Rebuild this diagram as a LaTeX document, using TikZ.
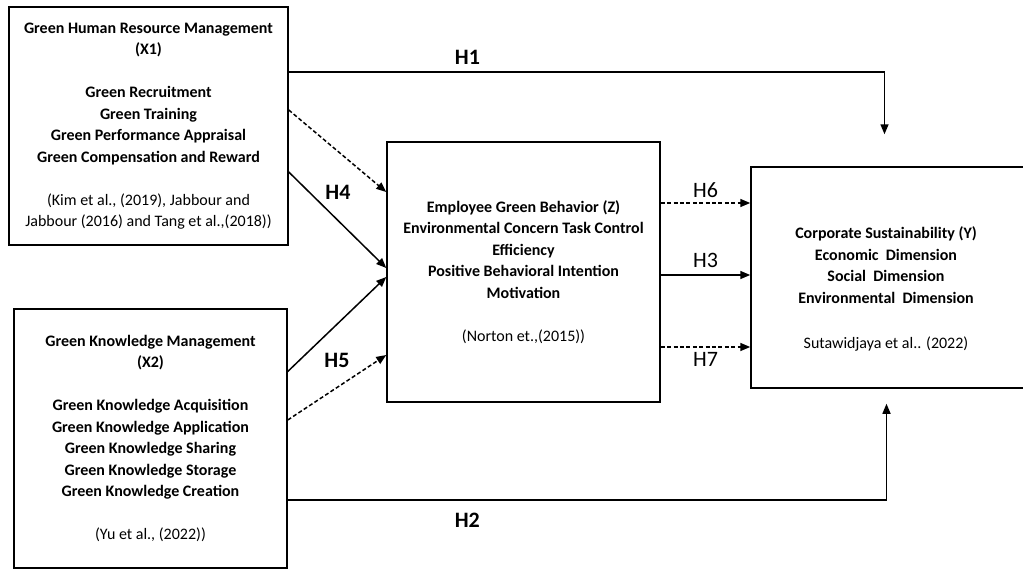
\documentclass[tikz,border=0pt]{standalone}
\usepackage{fontspec}
\setmainfont{Carlito}
\usetikzlibrary{arrows.meta}

\begin{document}
\begin{tikzpicture}[x=0.5pt,y=-0.5pt,
    box/.style={draw,line width=0.75pt,align=center,inner sep=0pt,font=\fontsize{8}{10.75}\selectfont},
    link/.style={line width=0.75pt,-{Triangle[length=5pt,width=4pt]}},
    dlink/.style={link,dash pattern=on 2pt off 1.2pt},
    hyp/.style={font=\fontsize{11}{13}\selectfont}]
  \useasboundingbox (0,0) rectangle (1023,573);
  % boxes
  \node[box,minimum width=139.5pt,minimum height=119pt] (X1) at (148.5,126)
    {\bfseries Green Human Resource Management\\ \bfseries (X1)\\[10.75pt]
     \bfseries Green Recruitment\\ \bfseries Green Training\\
     \bfseries Green Performance Appraisal\\ \bfseries Green Compensation and Reward\\[10.75pt]
     (Kim et al., (2019), Jabbour and\\ Jabbour (2016) and Tang et al.,(2018))};
  \node[box,minimum width=136.5pt,minimum height=129.5pt] (X2) at (150.5,438.5)
    {\bfseries Green Knowledge Management\\ \bfseries (X2)\\[10.75pt]
     \bfseries Green Knowledge Acquisition\\ \bfseries Green Knowledge Application\\
     \bfseries Green Knowledge Sharing\\ \bfseries Green Knowledge Storage\\
     \bfseries Green Knowledge Creation\\[10.75pt]
     (Yu et al., (2022))};
  \node[box,minimum width=136.5pt,minimum height=130pt] (Z) at (523.5,272)
    {\bfseries Employee Green Behavior (Z)\\ \bfseries Environmental Concern Task Control\\
     \bfseries Efficiency\\ \bfseries Positive Behavioral Intention\\ \bfseries Motivation\\[10.75pt]
     (Norton et.,(2015))};
  \node[box,minimum width=139.5pt,minimum height=110.5pt] (Y) at (890.5,277.5) {};
  \node[box,draw=none] (Ytext) at (886,289)
    {\bfseries Corporate Sustainability (Y)\\ \bfseries Economic\ \ Dimension\\
     \bfseries Social\ \ Dimension\\ \bfseries Environmental\ \ Dimension\\[12pt]
     Sutawidjaya et al.. (2022)};
  % direct paths
  \draw[link] ([yshift=27pt]X1.east) -| ([xshift=-3pt,yshift=16pt]Y.north)
    node[hyp,pos=0.15,above] (h1) {\bfseries H1};
  \draw[link] ([yshift=-30.75pt]X2.east) -| ([xshift=-2pt,yshift=-7.5pt]Y.south)
    node[hyp,pos=0.15,below=3pt] (h2) {\bfseries H2};
  % into Z
  \draw[dlink] ([yshift=8pt]X1.east) -- ([yshift=40pt]Z.west);
  \draw[link] ([yshift=-23pt]X1.east) -- ([yshift=2pt]Z.west);
  \draw[link] ([yshift=33.5pt]X2.east) -- ([yshift=-2.5pt]Z.west);
  \draw[dlink] ([yshift=9.25pt]X2.east) -- ([yshift=-41.5pt]Z.west);
  \node[hyp] (h4) at (338,192) {\bfseries H4};
  \node[hyp] (h5) at (337,360) {\bfseries H5};
  % Z to Y
  \draw[dlink] ([yshift=34.5pt]Z.east) -- ([yshift=34.5pt]Z.east -| Y.west)
    node[hyp,midway,above=-1pt] (h6) {H6};
  \draw[link] ([yshift=-1.5pt]Z.east) -- ([yshift=-1.5pt]Z.east -| Y.west)
    node[hyp,midway,above] (h3) {H3};
  \draw[dlink] ([yshift=-37.5pt]Z.east) -- ([yshift=-37.5pt]Z.east -| Y.west)
    node[hyp,midway,below=-1pt] (h7) {H7};
\end{tikzpicture}
\end{document}
